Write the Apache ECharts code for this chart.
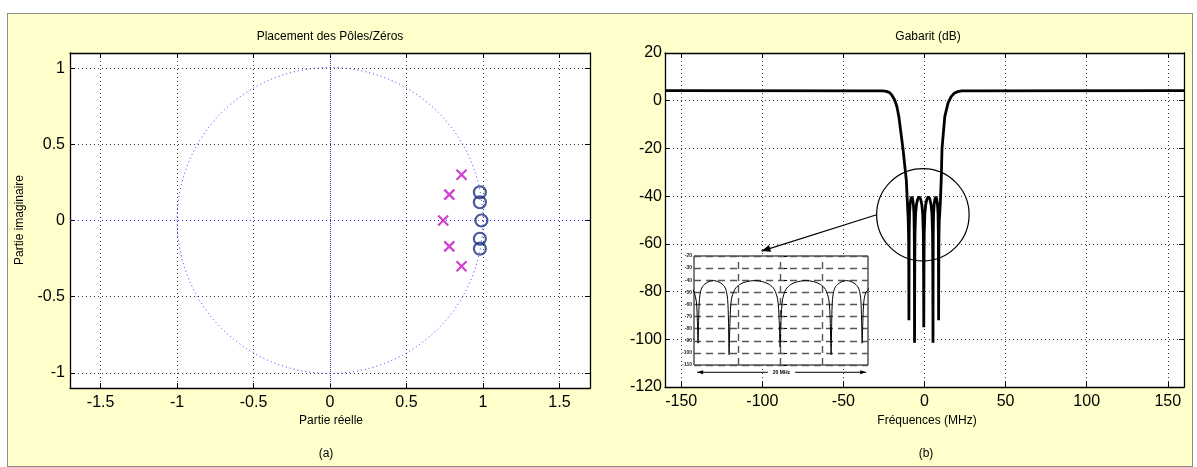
<!DOCTYPE html>
<html><head><meta charset="utf-8">
<script src="https://cdn.jsdelivr.net/npm/echarts@6/dist/echarts.min.js"></script>
<style>
html,body{margin:0;padding:0;background:#fff;}
#wrap{position:relative;width:1197px;height:467px;overflow:hidden;}
#frame{position:absolute;left:7px;top:13px;width:1184px;height:452px;background:#ffffcc;border:1px solid #8c8c8c;}
#c{position:absolute;left:0;top:0;width:1197px;height:467px;}
</style>
</head><body>
<div id="wrap"><div id="frame"></div><div id="c"></div></div>
<script>
// ---------- data ----------
const zerosRe = [0.98, 0.98, 0.99, 0.98, 0.98];
const zerosIm = [0.185, 0.12, 0, -0.12, -0.185];
const polesRe = [0.86, 0.78, 0.74, 0.78, 0.86];
const polesIm = [0.30, 0.17, 0, -0.17, -0.30];

const freqMHz = [-160, -25.6, -23.5, -21.5, -20, -18.4, -17, -15.8, -13.3, -11.2, -10.6, -10.05, -9.78, -9.67, -9.6,
  -9.53, -9.45, -9.25, -8.9, -8.4, -7.87, -7.35, -6.85, -6.5, -6.3, -6.21, -6.14,
  -6.03, -5.88, -5.5, -4.95, -4.2, -3.3, -2.4, -1.65, -1.1, -0.72, -0.56, -0.45,
  -0.34, -0.18, 0.2, 0.75, 1.5, 2.4, 3.3, 4.05, 4.6, 4.98, 5.13, 5.24,
  5.31, 5.39, 5.59, 5.94, 6.44, 6.97, 7.5, 8.0, 8.35, 8.55, 8.63, 8.7,
  8.77, 8.88, 9.1, 9.35, 9.8, 10.3, 10.8, 12.5, 14.5, 16.4, 18.5, 20.5, 23, 160];
const gainDb = [4.2, 4.15, 3.9, 3.4, 2.2, 0.3, -2.5, -6.7, -20, -33.4, -42, -49.5, -58, -75, -92,
  -72, -56, -47.5, -43.5, -41.2, -40.3, -41.2, -43.5, -47.5, -56, -72, -101.5,
  -72, -56, -47.5, -43.5, -41.2, -40.3, -41.2, -43.5, -47.5, -56, -72, -95,
  -72, -56, -47.5, -43.5, -41.2, -40.3, -41.2, -43.5, -47.5, -56, -72, -101.5,
  -72, -56, -47.5, -43.5, -41.2, -40.3, -41.2, -43.5, -47.5, -56, -72, -92,
  -75, -58, -50, -48, -42, -33.4, -20, -6.7, -1, 1.7, 3.2, 3.8, 4.15, 4.2];

const insetGridFreqs = [-5.1, -0.45, 4.3];

// ---------- build ----------
const zeros = zerosRe.map((r, i) => [r, zerosIm[i]]);
const poles = polesRe.map((r, i) => [r, polesIm[i]]);
const response = freqMHz.map((f, i) => [f, gainDb[i]]);

const FONT = '"Liberation Sans", Arial, Helvetica, sans-serif';
const dotted = {color: '#3a3a3a', type: [1, 3], width: 1};

function baseAxis(extra) {
  return Object.assign({
    type: 'value',
    axisLine: {show: true, onZero: false, lineStyle: {color: '#000', width: 1.3}},
    axisTick: {show: true, inside: true, length: 5, lineStyle: {color: '#000', width: 1}},
    axisLabel: {show: true, fontSize: 16, color: '#000', fontFamily: FONT, showMinLabel: false, showMaxLabel: false},
    splitLine: {show: false}
  }, extra);
}

const chart = echarts.init(document.getElementById('c'), null, {renderer: 'canvas'});

const option = {
  animation: false,
  backgroundColor: 'transparent',
  grid: [
    {left: 70, top: 53, width: 520, height: 335, show: true, backgroundColor: '#fff', borderWidth: 0},
    {left: 665, top: 53, width: 519, height: 334, show: true, backgroundColor: '#fff', borderWidth: 0},
    {left: 694, top: 256, width: 174, height: 109, show: true, backgroundColor: '#fff', borderColor: '#000', borderWidth: 1, z: 5}
  ],
  xAxis: [
    baseAxis({gridIndex: 0, position: 'bottom', min: -1.7, max: 1.7, splitNumber: 7,
      axisLabel: {fontSize: 16, color: '#000', fontFamily: FONT, margin: 7, showMinLabel: false, showMaxLabel: false},
      splitLine: {show: true, lineStyle: dotted}}),
    baseAxis({gridIndex: 0, position: 'top', min: -1.7, max: 1.7, splitNumber: 7, axisLabel: {show: false}}),
    baseAxis({gridIndex: 1, position: 'bottom', min: -160, max: 160, splitNumber: 6,
      axisLabel: {fontSize: 16, color: '#000', fontFamily: FONT, margin: 7, showMinLabel: false, showMaxLabel: false},
      splitLine: {show: true, lineStyle: dotted}}),
    baseAxis({gridIndex: 1, position: 'top', min: -160, max: 160, splitNumber: 6, axisLabel: {show: false}}),
    {type: 'value', gridIndex: 2, min: -10.05, max: 9.35, z: 6,
      axisLine: {show: false}, axisTick: {show: false}, axisLabel: {show: false}, splitLine: {show: false}}
  ],
  yAxis: [
    baseAxis({gridIndex: 0, position: 'left', min: -1.1, max: 1.1, splitNumber: 4,
      axisLabel: {fontSize: 16, color: '#000', fontFamily: FONT, margin: 5, showMinLabel: false, showMaxLabel: false},
      splitLine: {show: true, lineStyle: dotted}}),
    baseAxis({gridIndex: 0, position: 'right', min: -1.1, max: 1.1, splitNumber: 4, axisLabel: {show: false}}),
    baseAxis({gridIndex: 1, position: 'left', min: -120, max: 20, interval: 20,
      axisLabel: {fontSize: 16, color: '#000', fontFamily: FONT, margin: 3},
      splitLine: {show: true, lineStyle: dotted}}),
    baseAxis({gridIndex: 1, position: 'right', min: -120, max: 20, interval: 20, axisLabel: {show: false}}),
    {type: 'value', gridIndex: 2, min: -110, max: -20, interval: 10, z: 6,
      axisLine: {show: false},
      axisTick: {show: true, inside: true, length: 3, lineStyle: {color: '#000', width: 1}},
      axisLabel: {show: true, fontSize: 5, color: '#222', fontFamily: FONT, margin: 2, fontWeight: 'bold'},
      splitLine: {show: true, lineStyle: {color: '#555', type: [7, 5], width: 1.4}}}
  ],
  series: [
    {
      type: 'scatter', name: 'zéros', xAxisIndex: 0, yAxisIndex: 0, z: 6,
      data: zeros, symbol: 'circle', symbolSize: 12,
      itemStyle: {color: 'rgba(0,0,0,0)', borderColor: '#1b2f7e', borderWidth: 2.2},
      markLine: {
        silent: true, symbol: ['none', 'none'], label: {show: false}, z: 3,
        lineStyle: {color: '#2a2aff', type: [1, 3], width: 1},
        data: [{xAxis: 0}, {yAxis: 0}]
      }
    },
    {
      type: 'scatter', name: 'pôles', xAxisIndex: 0, yAxisIndex: 0, z: 6,
      data: poles, symbol: 'path://M0,0L10,10M10,0L0,10', symbolSize: 10,
      itemStyle: {color: 'rgba(0,0,0,0)', borderColor: '#c410c4', borderWidth: 2.2}
    },
    {
      type: 'line', name: 'gabarit', xAxisIndex: 2, yAxisIndex: 2, z: 4,
      data: response, showSymbol: false, symbol: 'none', clip: true,
      lineStyle: {color: '#000', width: 2.8}
    },
    {
      type: 'line', name: 'zoom', xAxisIndex: 4, yAxisIndex: 4, z: 7,
      data: response, showSymbol: false, symbol: 'none', clip: true, smooth: 0.3,
      lineStyle: {color: '#000', width: 1},
      markLine: {
        silent: true, symbol: ['none', 'none'], label: {show: false},
        lineStyle: {color: '#555', type: [7, 5], width: 1.4},
        data: insetGridFreqs.map(f => ({xAxis: f}))
      }
    }
  ]
};
chart.setOption(option);

// ---------- annotations (positioned through the axes) ----------
function px(xi, yi, pt) { return chart.convertToPixel({xAxisIndex: xi, yAxisIndex: yi}, pt); }
function arrowHead(tip, from, len, half) {
  const dx = tip[0] - from[0], dy = tip[1] - from[1];
  const L = Math.hypot(dx, dy) || 1, ux = dx / L, uy = dy / L;
  const bx = tip[0] - ux * len, by = tip[1] - uy * len;
  return [[tip[0], tip[1]], [bx - uy * half, by + ux * half], [bx + uy * half, by - ux * half]];
}

const o = px(0, 0, [0, 0]);
const r1 = px(0, 0, [1, 0])[0] - o[0];
const zc = px(2, 2, [-1, -47.8]);
const zr = px(2, 2, [27.5, -47.8])[0] - zc[0];
const arrStart = [zc[0] - zr, zc[1]];
const arrTip = px(2, 2, [-100.5, -63]);
const mhzA = px(4, 4, [-9.7, -116]);
const mhzB = px(4, 4, [9.15, -116]);
const mhzC = px(4, 4, [-0.3, -116]);

const txt = (s, x, y, size, rot) => ({
  type: 'text', x: x, y: y, rotation: rot || 0, z: 20,
  style: {text: s, fill: '#000', font: size + 'px ' + FONT, align: 'center', verticalAlign: 'middle'}
});

chart.setOption({
  graphic: [
    {type: 'circle', z: 10, shape: {cx: o[0], cy: o[1], r: r1},
      style: {fill: 'none', stroke: '#3030ff', lineWidth: 1, lineDash: [1, 3]}, silent: true},
    {type: 'circle', z: 10, shape: {cx: zc[0], cy: zc[1], r: zr},
      style: {fill: 'none', stroke: '#000', lineWidth: 1.2}, silent: true},
    {type: 'line', z: 10, shape: {x1: arrStart[0], y1: arrStart[1], x2: arrTip[0], y2: arrTip[1]},
      style: {stroke: '#000', lineWidth: 1.3}, silent: true},
    {type: 'polygon', z: 10, shape: {points: arrowHead(arrTip, arrStart, 9, 3.5)}, style: {fill: '#000'}, silent: true},
    {type: 'line', z: 10, shape: {x1: mhzA[0], y1: mhzA[1], x2: mhzB[0], y2: mhzB[1]},
      style: {stroke: '#000', lineWidth: 1}, silent: true},
    {type: 'polygon', z: 10, shape: {points: arrowHead(mhzA, mhzB, 6, 2)}, style: {fill: '#000'}, silent: true},
    {type: 'polygon', z: 10, shape: {points: arrowHead(mhzB, mhzA, 6, 2)}, style: {fill: '#000'}, silent: true},
    {type: 'text', x: mhzC[0], y: mhzC[1], z: 21,
      style: {text: '20 MHz', fill: '#000', font: 'bold 5px ' + FONT, align: 'center', verticalAlign: 'middle',
        backgroundColor: '#fff', padding: [0, 5]}},
    txt('Placement des Pôles/Zéros', 330, 37, 12),
    txt('Partie réelle', 331, 421, 12),
    txt('Partie imaginaire', 20, 220, 12, Math.PI / 2),
    txt('(a)', 326, 454, 12),
    txt('Gabarit (dB)', 928, 37, 12),
    txt('Fréquences (MHz)', 927, 421, 12),
    txt('(b)', 926, 454, 12)
  ]
});
</script>
</body></html>
